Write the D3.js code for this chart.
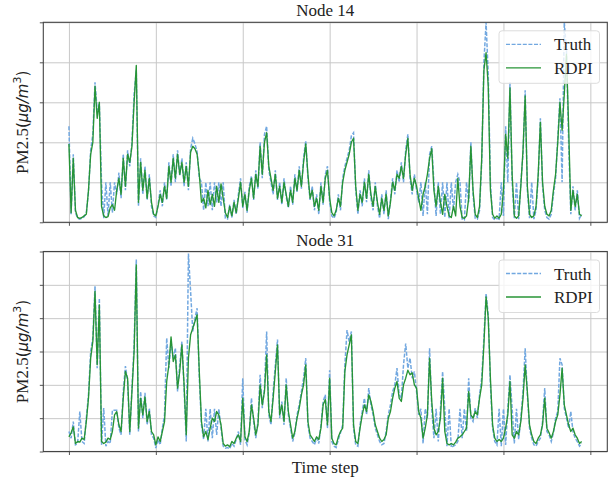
<!DOCTYPE html>
<html>
<head>
<meta charset="utf-8">
<script src="https://cdn.jsdelivr.net/npm/d3@7"></script>
<style>
  body { margin: 0; background: #fff; }
  svg { display: block; }
</style>
</head>
<body>
<svg width="610" height="480" font-family="'Liberation Serif', 'Times New Roman', Times, 'DejaVu Serif', serif"></svg>
<script>
// time step between two stored samples
var STEP = 25;

var node14Truth = [120,10,85,12,5,4,5,7,12,38,90,110,175,140,148,50,5,50,8,50,12,50,35,62,30,85,40,90,70,100,
  160,190,20,80,35,70,28,60,20,8,6,22,40,20,50,28,75,45,85,50,90,58,80,45,75,40,92,105,98,88,
  55,50,15,50,20,50,15,50,25,50,20,50,5,4,22,6,28,10,35,55,18,38,12,45,58,28,65,42,100,55,
  110,120,65,50,35,65,28,50,22,55,32,18,45,22,60,38,70,42,80,102,55,28,45,15,35,10,50,22,60,70,
  25,8,5,12,35,15,55,70,80,90,108,112,40,10,40,20,55,25,65,30,15,50,20,5,35,10,40,4,28,55,
  35,65,50,75,50,90,110,55,35,60,40,25,50,8,50,10,85,95,50,8,50,10,50,6,50,5,50,15,50,60,
  50,4,3,50,25,100,35,5,4,15,75,200,250,185,50,6,3,5,4,50,8,120,50,175,50,5,50,4,50,85,
  165,40,5,50,4,15,55,130,45,15,6,4,10,35,55,105,155,50,250,215,100,10,45,15,40,5,10];

var node14Rdpi = [98,12,80,15,6,5,6,8,10,40,85,100,170,130,150,20,8,6,7,18,22,15,40,55,35,80,45,85,75,95,
  150,196,25,75,40,65,30,55,25,10,8,20,35,25,45,30,70,50,80,55,85,60,75,50,70,45,88,95,92,85,
  60,25,30,18,40,22,35,20,45,25,48,30,12,6,20,8,25,12,30,50,20,35,15,40,55,30,60,45,95,60,
  100,112,70,55,40,60,30,45,25,50,35,20,40,25,55,40,65,45,75,98,60,30,40,20,30,15,45,25,55,65,
  30,12,8,15,30,20,50,65,75,85,100,105,45,15,35,25,50,30,60,35,20,45,25,10,30,15,35,8,25,50,
  40,60,55,70,55,85,105,60,40,55,45,30,15,35,45,60,80,92,40,20,45,25,10,35,20,8,6,20,8,55,
  20,6,5,8,30,95,40,10,6,20,80,190,212,170,40,10,5,8,5,10,40,110,80,168,60,8,5,8,45,90,
  158,45,10,6,8,20,60,125,50,20,10,8,15,40,60,100,150,115,160,210,120,15,40,20,35,10,8];

var node31Truth = [30,20,45,10,12,60,15,12,50,85,150,170,248,125,230,10,65,8,15,12,62,62,62,35,25,90,128,105,25,95,
  160,288,30,90,50,88,40,65,25,20,5,18,10,35,55,170,125,165,140,155,90,130,165,95,15,297,240,180,200,215,
  110,40,18,64,15,64,20,64,25,64,35,8,5,6,4,12,8,18,30,10,110,18,10,28,80,45,20,45,115,65,
  95,180,55,40,90,130,168,50,75,40,110,55,35,15,28,55,70,90,110,140,40,20,15,10,20,12,40,75,85,35,
  122,15,8,6,18,28,40,130,182,165,180,35,10,8,40,60,80,55,95,70,55,35,25,15,10,12,30,55,70,90,
  100,125,85,80,130,162,125,140,110,120,90,55,64,12,64,50,155,64,20,64,15,64,120,64,8,64,6,8,10,15,
  64,20,64,30,110,50,45,65,50,85,110,170,237,205,100,35,15,10,64,8,64,10,64,115,64,12,64,18,50,90,
  155,85,35,20,10,8,15,20,45,95,30,25,15,28,50,60,140,130,65,50,35,60,30,20,15,8,12];

var node31Rdpi = [22,28,37,12,15,14,20,18,45,80,140,165,240,130,220,15,12,14,20,18,30,55,60,40,30,80,120,110,30,90,
  150,280,35,80,55,82,45,60,30,25,10,22,15,30,45,105,130,172,135,145,95,120,160,100,25,140,175,185,195,205,
  120,45,22,30,18,35,50,45,60,55,40,12,8,10,7,15,12,20,25,15,80,22,15,30,70,50,25,40,100,70,
  90,145,60,45,80,120,160,55,70,45,100,60,40,20,30,50,65,85,100,130,45,25,20,15,22,18,35,70,78,40,
  110,20,12,10,22,30,35,120,145,160,175,40,15,12,35,55,70,60,85,75,60,40,30,20,15,18,25,50,60,80,
  95,105,80,75,100,110,122,115,118,100,95,60,50,20,35,55,140,75,35,25,30,50,110,30,12,10,12,10,14,20,
  22,25,30,35,90,55,50,60,55,80,100,160,232,200,110,40,20,15,18,15,20,35,55,105,25,20,30,25,45,80,
  130,90,40,25,15,12,20,25,40,80,35,28,20,30,45,55,85,125,70,55,40,30,35,25,20,12,15];

var xTicks = [0, 1000, 2000, 3000, 4000, 5000, 6000];
var node14YTicks = [0, 50, 100, 150, 200, 250];
var node31YTicks = [0, 50, 100, 150, 200, 250, 300];
var seriesNames = ["Truth", "RDPI"];

var truthColor = "#72a8e0";
var rdpiColor = "#279436";
var serif = "'Liberation Serif', 'Times New Roman', Times, 'DejaVu Serif', serif";

var svg = d3.select("svg");
var left = 43.3, right = 607.3, plotH = 200;

var panels = [
  {title: "Node 14", top: 22.3, truth: node14Truth, rdpi: node14Rdpi, yTicks: node14YTicks},
  {title: "Node 31", top: 251.5, truth: node31Truth, rdpi: node31Rdpi, yTicks: node31YTicks}
];

var n = node14Rdpi.length;
var steps = d3.range(n).map(function(i) { return i * STEP; });
var xMax = steps[n - 1];
var pad = xMax * 0.05;

var x = d3.scaleLinear()
  .domain([-pad, xMax + pad])
  .range([left, right]);

panels.forEach(function(p, k) {
  var yMax = p.yTicks[p.yTicks.length - 1];
  var y = d3.scaleLinear().domain([0, yMax]).range([p.top + plotH, p.top]);
  var g = svg.append("g");

  // grid
  g.append("g")
    .attr("transform", "translate(0," + (p.top + plotH) + ")")
    .call(d3.axisBottom(x).tickValues(xTicks).tickSize(-plotH).tickFormat(""))
    .call(function(a) {
      a.select(".domain").remove();
      a.selectAll("line").attr("stroke", "#c8c8c8").attr("stroke-width", 1);
    });
  g.append("g")
    .attr("transform", "translate(" + left + ",0)")
    .call(d3.axisLeft(y).tickValues(p.yTicks).tickSize(-(right - left)).tickFormat(""))
    .call(function(a) {
      a.select(".domain").remove();
      a.selectAll("line").attr("stroke", "#c8c8c8").attr("stroke-width", 1);
    });

  var clipId = "clip" + k;
  svg.append("clipPath").attr("id", clipId)
    .append("rect")
    .attr("x", left).attr("y", p.top)
    .attr("width", right - left).attr("height", plotH);

  var line = d3.line()
    .x(function(d, i) { return x(steps[i]); })
    .y(function(d) { return y(d); });

  g.append("path")
    .datum(p.truth)
    .attr("clip-path", "url(#" + clipId + ")")
    .attr("d", line)
    .attr("fill", "none")
    .attr("stroke", truthColor)
    .attr("stroke-width", 1.5)
    .attr("stroke-dasharray", "4,1.6");

  g.append("path")
    .datum(p.rdpi)
    .attr("clip-path", "url(#" + clipId + ")")
    .attr("d", line)
    .attr("fill", "none")
    .attr("stroke", rdpiColor)
    .attr("stroke-width", 1.35)
    .attr("stroke-linejoin", "round");

  // tick marks outside + frame
  g.append("g")
    .attr("transform", "translate(0," + (p.top + plotH) + ")")
    .call(d3.axisBottom(x).tickValues(xTicks).tickSize(3.5).tickSizeOuter(0).tickFormat(""))
    .call(function(a) {
      a.select(".domain").remove();
      a.selectAll("line").attr("stroke", "#555");
    });
  g.append("g")
    .attr("transform", "translate(" + left + ",0)")
    .call(d3.axisLeft(y).tickValues(p.yTicks).tickSize(3.5).tickSizeOuter(0).tickFormat(""))
    .call(function(a) {
      a.select(".domain").remove();
      a.selectAll("line").attr("stroke", "#555");
    });
  g.append("rect")
    .attr("x", left).attr("y", p.top)
    .attr("width", right - left).attr("height", plotH)
    .attr("fill", "none")
    .attr("stroke", "#444")
    .attr("stroke-width", 1.1);

  g.append("text")
    .attr("x", (left + right) / 2)
    .attr("y", p.top - 6)
    .attr("text-anchor", "middle")
    .attr("font-family", serif)
    .attr("font-size", 17)
    .attr("fill", "#222")
    .text(p.title);

  // y label
  var lab = g.append("text")
    .attr("transform", "translate(28," + (p.top + plotH / 2) + ") rotate(-90)")
    .attr("text-anchor", "middle")
    .attr("fill", "#222")
    .attr("font-family", serif)
    .attr("font-size", 17);
  lab.append("tspan").text("PM2.5");
  lab.append("tspan").attr("font-family", "DejaVu Sans").attr("font-size", 15).text("(");
  lab.append("tspan").attr("font-family", "DejaVu Sans").attr("font-style", "italic").attr("font-size", 15).text("μg/m");
  lab.append("tspan").attr("font-family", "DejaVu Sans").attr("font-size", 11).attr("dy", -7).text("3");
  lab.append("tspan").attr("font-family", "DejaVu Sans").attr("font-size", 15).attr("dy", 7).text(")");

  // legend
  var lg = g.append("g").attr("transform", "translate(499," + (p.top + 8.5) + ")");
  lg.append("rect")
    .attr("width", 100.5).attr("height", 52.5)
    .attr("rx", 3)
    .attr("fill", "#fff").attr("fill-opacity", 0.8)
    .attr("stroke", "#dcdcdc");
  seriesNames.forEach(function(name, j) {
    var ly = 13.5 + j * 23.5;
    lg.append("line")
      .attr("x1", 7).attr("x2", 42)
      .attr("y1", ly).attr("y2", ly)
      .attr("stroke", j === 0 ? truthColor : rdpiColor)
      .attr("stroke-width", 1.3)
      .attr("stroke-dasharray", j === 0 ? "4,1.6" : null);
    lg.append("text")
      .attr("x", 55).attr("y", ly + 6)
      .attr("font-family", serif)
      .attr("font-size", 17)
      .attr("fill", "#222")
      .text(name);
  });
});

svg.append("text")
  .attr("x", (left + right) / 2)
  .attr("y", 473)
  .attr("text-anchor", "middle")
  .attr("font-family", serif)
  .attr("font-size", 17)
  .attr("fill", "#222")
  .text("Time step");
</script>
</body>
</html>
